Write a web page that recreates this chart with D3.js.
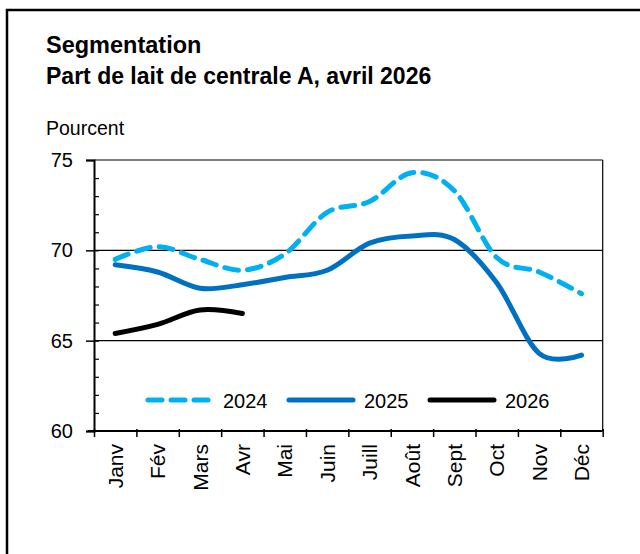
<!DOCTYPE html>
<html>
<head>
<meta charset="utf-8">
<script src="https://d3js.org/d3.v7.min.js"></script>
<style>
  body { margin: 0; background: #fff; }
  text { fill: #000; font-family: "Liberation Sans", Arial, sans-serif; }
</style>
</head>
<body>
<script>
// months (x categories)
var months = ["Janv", "Fév", "Mars", "Avr", "Mai", "Juin", "Juill", "Août", "Sept", "Oct", "Nov", "Déc"];

// series values, percent
var s2024 = [69.5, 70.2, 69.5, 68.9, 69.8, 72.1, 72.7, 74.3, 73.3, 69.6, 68.8, 67.6];
var s2025 = [69.2, 68.8, 67.9, 68.1, 68.5, 68.9, 70.4, 70.8, 70.6, 68.2, 64.3, 64.2];
var s2026 = [65.4, 65.9, 66.7, 66.5];

var seriesNames = ["2024", "2025", "2026"];
var yTicks = [60, 65, 70, 75];

var W = 640, H = 554;
var pLeft = 94, pRight = 602.7, pTop = 160, pBottom = 431;

var svg = d3.select("body").append("svg")
  .attr("width", W).attr("height", H);

// outer frame
svg.append("rect")
  .attr("x", 7).attr("y", 10).attr("width", 660).attr("height", 580)
  .attr("fill", "none").attr("stroke", "#000").attr("stroke-width", 2.5);

// titles
svg.append("text").attr("x", 46).attr("y", 53)
  .style("font-size", "23.5px").style("font-weight", "bold")
  .text("Segmentation");
svg.append("text").attr("x", 46).attr("y", 84)
  .style("font-size", "23px").style("font-weight", "bold")
  .text("Part de lait de centrale A, avril 2026");
svg.append("text").attr("x", 46).attr("y", 135)
  .style("font-size", "19.5px")
  .text("Pourcent");

var x = d3.scaleBand().domain(months).range([pLeft, pRight]);
var xEdge = d3.scaleLinear().domain([0, months.length]).range([pLeft, pRight]);
var y = d3.scaleLinear().domain([60, 75]).range([pBottom, pTop]);

function px(i) { return x(months[i]) + x.bandwidth() / 2; }

// gridlines + plot border
var g = svg.append("g");
g.selectAll("line.grid").data([65, 70, 75]).enter().append("line")
  .attr("class", "grid")
  .attr("x1", pLeft).attr("x2", pRight)
  .attr("y1", function(d) { return y(d); }).attr("y2", function(d) { return y(d); })
  .attr("stroke", "#000").attr("stroke-width", 1.2);
g.append("line")
  .attr("x1", pRight).attr("x2", pRight).attr("y1", pTop).attr("y2", pBottom)
  .attr("stroke", "#000").attr("stroke-width", 1.2);

// y axis: major ticks outside with labels
var yAxis = svg.append("g").attr("transform", "translate(" + pLeft + ",0)")
  .call(d3.axisLeft(y).tickValues(yTicks).tickSize(8).tickPadding(13));
yAxis.select(".domain").attr("stroke-width", 2);
yAxis.selectAll(".tick line").attr("stroke-width", 1.5);
yAxis.selectAll("text").attr("font-family", null).attr("font-size", null)
  .style("font-size", "20px");

// minor ticks inside
var yMinor = svg.append("g").attr("transform", "translate(" + pLeft + ",0)")
  .call(d3.axisRight(y).tickValues(d3.range(61, 75)).tickSize(5).tickFormat(""));
yMinor.select(".domain").remove();
yMinor.selectAll(".tick line").attr("stroke-width", 1.2);

// x axis: ticks at category edges
var xAxis = svg.append("g").attr("transform", "translate(0," + pBottom + ")")
  .call(d3.axisBottom(xEdge).tickValues(d3.range(0, months.length + 1)).tickSizeInner(6).tickSizeOuter(0).tickFormat(""));
xAxis.select(".domain").attr("stroke-width", 2)
  .attr("d", "M" + (pLeft - 6) + ",0H" + pRight);
xAxis.selectAll(".tick line").attr("stroke-width", 1.5).attr("y1", -2);

// x labels, rotated
var xLab = svg.append("g").attr("transform", "translate(0," + pBottom + ")")
  .call(d3.axisBottom(x).tickSize(0).tickPadding(0));
xLab.select(".domain").remove();
xLab.selectAll("text").attr("font-family", null).attr("font-size", null)
  .style("font-size", "21px")
  .attr("text-anchor", "end")
  .attr("transform", "rotate(-90)")
  .attr("x", -13).attr("y", 0).attr("dy", "0.36em");

// lines
var line = d3.line()
  .x(function(d, i) { return px(i); })
  .y(function(d) { return y(d); })
  .curve(d3.curveCardinal.tension(0));

var styles = [
  { data: s2024, color: "#00B0F0", dash: "14,9" },
  { data: s2025, color: "#0070C0", dash: null },
  { data: s2026, color: "#000000", dash: null }
];

styles.forEach(function(s) {
  svg.append("path")
    .attr("d", line(s.data))
    .attr("fill", "none")
    .attr("stroke", s.color)
    .attr("stroke-width", 5)
    .attr("stroke-linecap", "round")
    .attr("stroke-dasharray", s.dash);
});

// legend
var legX = [148, 289, 430];
var legend = svg.append("g");
styles.forEach(function(s, i) {
  legend.append("line")
    .attr("x1", legX[i]).attr("x2", legX[i] + 64)
    .attr("y1", 400).attr("y2", 400)
    .attr("stroke", s.color).attr("stroke-width", 5)
    .attr("stroke-linecap", "round")
    .attr("stroke-dasharray", s.dash);
  legend.append("text")
    .attr("x", legX[i] + 75).attr("y", 407.5)
    .style("font-size", "20px")
    .text(seriesNames[i]);
});
</script>
</body>
</html>
